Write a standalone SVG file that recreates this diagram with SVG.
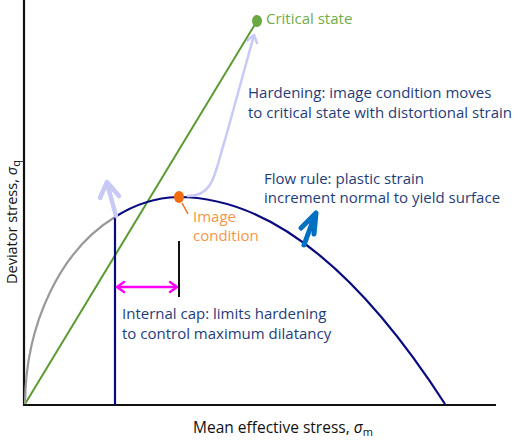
<svg xmlns="http://www.w3.org/2000/svg" width="520" height="442" viewBox="0 0 520 442">
<style>
text{font-family:"Open Sans","Noto Sans","Liberation Sans",sans-serif;font-size:15px}
.nav{fill:#1f3d7a}
.ax{fill:#111;font-size:15.5px}
.yl{font-size:14.5px}
.it{font-style:italic}
.sub{font-size:11px}
</style>
<defs>
<marker id="chevL" viewBox="-10 -6 12 12" markerWidth="12" markerHeight="12" refX="0" refY="0" orient="auto" markerUnits="userSpaceOnUse">
<path d="M-7,-5 L0,0 L-7,5" fill="none" stroke="#c8c9f7" stroke-width="2.5" stroke-linecap="round" stroke-linejoin="round"/>
</marker>
<marker id="chevM" viewBox="-10 -7 12 14" markerWidth="12" markerHeight="14" refX="0" refY="0" orient="auto-start-reverse" markerUnits="userSpaceOnUse">
<path d="M-7,-5 L0,0 L-7,5" fill="none" stroke="#ff00ff" stroke-width="2.5" stroke-linecap="round" stroke-linejoin="round"/>
</marker>
</defs>
<g id="axes" fill="none" stroke="#111" stroke-width="2.2">
<line x1="24" y1="0" x2="24" y2="405"/>
<line x1="23" y1="405" x2="496" y2="405"/>
</g>
<g id="critical-line">
<line x1="25" y1="404" x2="257" y2="21" stroke="#5a9a30" stroke-width="2"/>
</g>
<g id="yield-surface" fill="none" stroke-width="2.2">
<path d="M25,404 A153,207 0 0 1 115,217" stroke="#999"/>
<path d="M115,217 A153,207 0 0 1 178,197 Q311.5,197 445,404" stroke="#0a0a80"/>
<line x1="115" y1="217" x2="115" y2="405" stroke="#0a0a80"/>
</g>
<g id="connectors" fill="none">
<path d="M187,196 C215,197 215,170 225,140 L254,35" stroke="#c8c9f7" stroke-width="2.5" marker-end="url(#chevL)"/>
<path d="M116,216 L107,183 M100,198 L107,182 L119,196" stroke="#c8c9f7" stroke-width="4.5" stroke-linecap="round" stroke-linejoin="round"/>
<path d="M304,245 L315,215 M301,228 L316,213 L314,234" stroke="#0070c0" stroke-width="5" stroke-linecap="round" stroke-linejoin="round"/>
<line x1="117" y1="287" x2="177" y2="287" stroke="#ff00ff" stroke-width="2.5" marker-start="url(#chevM)" marker-end="url(#chevM)"/>
<line x1="179" y1="241" x2="179" y2="297" stroke="#111" stroke-width="2"/>
<line x1="182" y1="203" x2="188" y2="214" stroke="#f26b1d" stroke-width="1.5"/>
</g>
<g id="critical-state">
<ellipse cx="257" cy="21" rx="5" ry="6" fill="#6aa842"/>
<text x="266" y="24" fill="#70ad47">Critical state</text>
</g>
<g id="image-condition">
<ellipse cx="179" cy="197" rx="5" ry="6" fill="#f26b10"/>
<text x="193" y="222" fill="#f79646">Image</text>
<text x="193" y="241" fill="#f79646">condition</text>
</g>
<g id="hardening-label">
<text class="nav" x="248" y="98">Hardening: image condition moves</text>
<text class="nav" x="248" y="118">to critical state with distortional strain</text>
</g>
<g id="flow-rule-label">
<text class="nav" x="264" y="184">Flow rule: plastic strain</text>
<text class="nav" x="264" y="203">increment normal to yield surface</text>
</g>
<g id="internal-cap-label">
<text class="nav" x="122" y="319">Internal cap: limits hardening</text>
<text class="nav" x="122" y="339">to control maximum dilatancy</text>
</g>
<g id="x-label">
<text class="ax" x="193" y="433">Mean effective stress, <tspan class="it">σ</tspan><tspan class="sub" dy="3">m</tspan></text>
</g>
<g id="y-label">
<text class="ax yl" transform="translate(17,284) rotate(-90)">Deviator stress, <tspan class="it">σ</tspan><tspan class="sub" dy="3">q</tspan></text>
</g>
</svg>
